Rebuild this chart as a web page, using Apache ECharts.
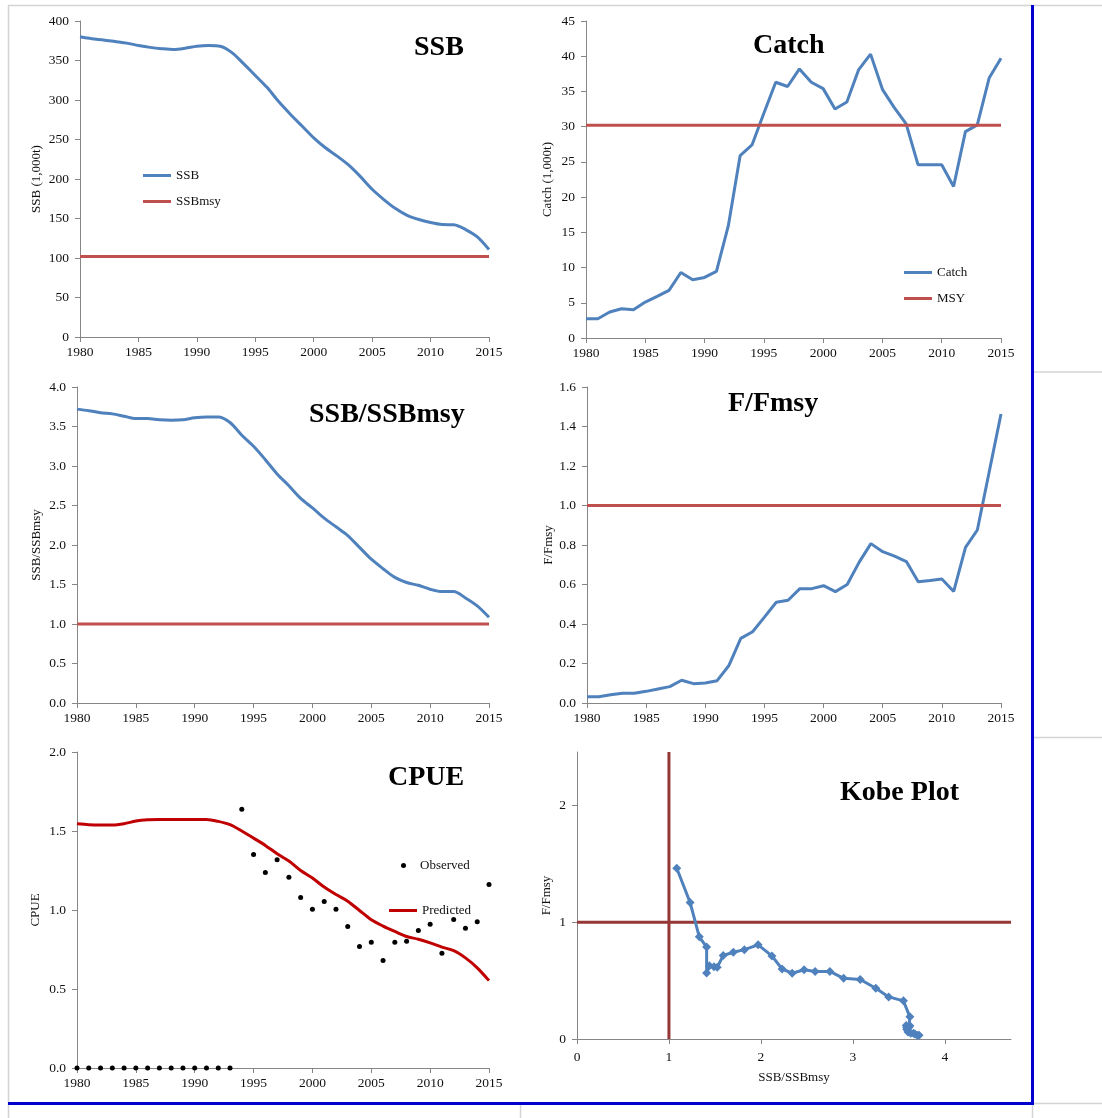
<!DOCTYPE html>
<html>
<head>
<meta charset="utf-8">
<script src="https://cdn.jsdelivr.net/npm/echarts@6/dist/echarts.min.js"></script>
<style>
body { margin: 0; background: #fff; }
#stockChart { width: 1102px; height: 1118px; }
</style>
</head>
<body>
<div id="stockChart"></div>
<script>
var years = [1980, 1981, 1982, 1983, 1984, 1985, 1986, 1987, 1988, 1989, 1990, 1991,
    1992, 1993, 1994, 1995, 1996, 1997, 1998, 1999, 2000, 2001, 2002, 2003,
    2004, 2005, 2006, 2007, 2008, 2009, 2010, 2011, 2012, 2013, 2014, 2015];
// SSB (1,000t)
var ssb = [380, 377.6, 376, 374, 372, 369, 366.6, 365, 364, 365.5, 368, 369,
    368, 360, 346, 331, 316, 298, 282, 267, 252, 239.5, 229, 217.5,
    203, 187, 174, 162.6, 154, 148.7, 145, 142.4, 142, 136, 126.7, 110.7];
var ssbMsy = 102;
// Catch (1,000t)
var catchData = [2.74, 2.74, 3.69, 4.16, 4.02, 5.1, 5.9, 6.76, 9.3, 8.27, 8.6, 9.45,
    15.9, 25.9, 27.4, 31.9, 36.3, 35.7, 38.2, 36.3, 35.4, 32.5, 33.5, 38.1,
    40.3, 35.3, 32.7, 30.4, 24.6, 24.6, 24.6, 21.5, 29.3, 30.25, 36.9, 39.7];
var msy = 30.2;
var ssbRatio = [3.72, 3.70, 3.675, 3.66, 3.63, 3.60, 3.60, 3.586, 3.58, 3.586, 3.61, 3.62,
    3.62, 3.55, 3.39, 3.25, 3.08, 2.90, 2.75, 2.59, 2.47, 2.34, 2.23, 2.12,
    1.97, 1.82, 1.70, 1.59, 1.525, 1.49, 1.44, 1.41, 1.41, 1.33, 1.23, 1.085];
var fRatio = [0.032, 0.032, 0.042, 0.049, 0.049, 0.059, 0.071, 0.083, 0.115, 0.098, 0.101, 0.113,
    0.19, 0.327, 0.361, 0.435, 0.51, 0.52, 0.579, 0.579, 0.594, 0.564, 0.60, 0.712,
    0.807, 0.766, 0.744, 0.716, 0.614, 0.62, 0.628, 0.565, 0.788, 0.876, 1.17, 1.463];
var refLevel = 1.0;
var cpueObs = [0, 0, 0, 0, 0, 0, 0, 0, 0, 0, 0, 0,
    0, 0, 1.637, 1.352, 1.238, 1.318, 1.208, 1.079, 1.005, 1.054, 1.005, 0.895,
    0.769, 0.796, 0.680, 0.796, 0.803, 0.870, 0.910, 0.727, 0.940, 0.885, 0.925, 1.162];
var cpuePred = [1.546, 1.54, 1.538, 1.538, 1.546, 1.563, 1.571, 1.573, 1.573, 1.573, 1.573, 1.573,
    1.561, 1.54, 1.50, 1.455, 1.409, 1.356, 1.31, 1.25, 1.202, 1.145, 1.098, 1.056,
    0.997, 0.938, 0.898, 0.864, 0.832, 0.815, 0.792, 0.765, 0.743, 0.697, 0.634, 0.553];
var kobeTicksX = [0, 1, 2, 3, 4];
var kobeTicksY = [0, 1, 2];
var kobeMaxX = 4.72;
var kobeMaxY = 2.46;

let myChart = echarts.init(document.getElementById('stockChart'))

let blue = '#4F81BD';
let red = '#C0504D';
let darkRed = '#C00000';
let kobeRed = '#953735';
let axisColor = '#868686';
let textColor = '#111';
let font = 'Liberation Serif';

function yearAxis(gridIndex) {
    return {
        type: 'value', gridIndex: gridIndex, min: 1980, max: 2015, interval: 5,
        axisLine: { show: true, onZero: false, lineStyle: { color: axisColor } },
        axisTick: { show: true, length: 5, lineStyle: { color: axisColor } },
        axisLabel: { color: textColor, fontSize: 13.5, margin: 8, formatter: function (v) { return String(v) } },
        splitLine: { show: false }
    }
}

function valueAxis(gridIndex, max, interval, digits, name, nameGap) {
    return {
        type: 'value', gridIndex: gridIndex, min: 0, max: max, interval: interval,
        name: name, nameLocation: 'middle', nameGap: nameGap,
        nameTextStyle: { fontSize: 13, color: textColor },
        axisLine: { show: true, onZero: false, lineStyle: { color: axisColor } },
        axisTick: { show: true, length: 5, lineStyle: { color: axisColor } },
        axisLabel: { color: textColor, fontSize: 13.5, margin: 11, formatter: function (v) { return v.toFixed(digits) } },
        splitLine: { show: false }
    }
}

function yearPairs(arr) {
    return years.map(function (y, i) { return [y, arr[i]] })
}
function refPairs(v) {
    return [[years[0], v], [years[years.length - 1], v]]
}
function lineSeries(name, idx, data, color, smooth) {
    return {
        name: name, type: 'line', xAxisIndex: idx, yAxisIndex: idx, data: data,
        smooth: smooth, showSymbol: false, color: color,
        lineStyle: { width: 3, color: color },
        emphasis: { disabled: true }
    }
}

let titleStyle = { fontFamily: font, fontSize: 28, fontWeight: 'bold', color: '#000' };
let legendText = { fontFamily: font, fontSize: 13, color: textColor };

var kobeAxisX = valueAxis(5, kobeMaxX, 1, 0, 'SSB/SSBmsy', 32);
kobeAxisX.axisLabel.customValues = kobeTicksX;
kobeAxisX.axisTick.customValues = kobeTicksX;
var kobeAxisY = valueAxis(5, kobeMaxY, 1, 0, 'F/Fmsy', 24);
kobeAxisY.axisLabel.customValues = kobeTicksY;
kobeAxisY.axisTick.customValues = kobeTicksY;

var option = {
    animation: false,
    backgroundColor: '#fff',
    textStyle: { fontFamily: font },
    title: [
        { text: 'SSB', left: 414, top: 34, padding: 0, textStyle: titleStyle },
        { text: 'Catch', left: 753, top: 32, padding: 0, textStyle: titleStyle },
        { text: 'SSB/SSBmsy', left: 309, top: 401, padding: 0, textStyle: titleStyle },
        { text: 'F/Fmsy', left: 728, top: 390, padding: 0, textStyle: titleStyle },
        { text: 'CPUE', left: 388, top: 764, padding: 0, textStyle: titleStyle },
        { text: 'Kobe Plot', left: 840, top: 779, padding: 0, textStyle: titleStyle }
    ],
    legend: [
        { orient: 'vertical', left: 143, top: 169, padding: 0, itemWidth: 28, itemHeight: 3, itemGap: 13, icon: 'rect', textStyle: legendText, data: ['SSB', 'SSBmsy'] },
        { orient: 'vertical', left: 904, top: 266, padding: 0, itemWidth: 28, itemHeight: 3, itemGap: 13, icon: 'rect', textStyle: legendText, data: ['Catch', 'MSY'] },
        { left: 401, top: 859, padding: 0, itemWidth: 5, itemHeight: 5, icon: 'circle', textStyle: { fontFamily: font, fontSize: 13, color: textColor, padding: [0, 0, 0, 9] }, data: ['Observed'] },
        { left: 389, top: 904, padding: 0, itemWidth: 28, itemHeight: 3, icon: 'rect', textStyle: legendText, data: ['Predicted'] }
    ],
    grid: [
        { left: 80, top: 21, width: 409, height: 316 },
        { left: 586, top: 21, width: 415, height: 317 },
        { left: 77, top: 387, width: 412, height: 316 },
        { left: 587, top: 387, width: 414, height: 316 },
        { left: 77, top: 752, width: 412, height: 316 },
        { left: 577, top: 752, width: 434, height: 287 }
    ],
    xAxis: [yearAxis(0), yearAxis(1), yearAxis(2), yearAxis(3), yearAxis(4), kobeAxisX],
    yAxis: [
        valueAxis(0, 400, 50, 0, 'SSB (1,000t)', 37),
        valueAxis(1, 45, 5, 0, 'Catch (1,000t)', 32),
        valueAxis(2, 4, 0.5, 1, 'SSB/SSBmsy', 34),
        valueAxis(3, 1.6, 0.2, 1, 'F/Fmsy', 32),
        valueAxis(4, 2, 0.5, 1, 'CPUE', 35),
        kobeAxisY
    ],
    series: [
        lineSeries('SSB', 0, yearPairs(ssb), blue, 0.3),
        lineSeries('SSBmsy', 0, refPairs(ssbMsy), red, false),
        lineSeries('Catch', 1, yearPairs(catchData), blue, false),
        lineSeries('MSY', 1, refPairs(msy), red, false),
        lineSeries('SSB/SSBmsy', 2, yearPairs(ssbRatio), blue, 0.3),
        lineSeries('ssbRef', 2, refPairs(refLevel), red, false),
        lineSeries('F/Fmsy', 3, yearPairs(fRatio), blue, false),
        lineSeries('fRef', 3, refPairs(refLevel), red, false),
        {
            name: 'Observed', type: 'scatter', xAxisIndex: 4, yAxisIndex: 4,
            data: yearPairs(cpueObs), symbol: 'circle', symbolSize: 5, color: '#000',
            itemStyle: { color: '#000', opacity: 1 },
            emphasis: { disabled: true }
        },
        lineSeries('Predicted', 4, yearPairs(cpuePred), darkRed, 0.3),
        lineSeries('kobeB', 5, [[refLevel, 0], [refLevel, kobeMaxY]], kobeRed, false),
        lineSeries('kobeF', 5, [[0, refLevel], [kobeMaxX, refLevel]], kobeRed, false),
        {
            name: 'Kobe', type: 'line', xAxisIndex: 5, yAxisIndex: 5,
            data: ssbRatio.map(function (v, i) { return [v, fRatio[i]] }),
            symbol: 'diamond', symbolSize: 9, showSymbol: true, color: blue,
            lineStyle: { width: 3, color: blue },
            itemStyle: { color: blue },
            emphasis: { disabled: true }
        }
    ],
    // spreadsheet cell lines and the blue print frame
    graphic: [
        { type: 'line', z: 100, shape: { x1: 8, y1: 5.5, x2: 1102, y2: 5.5 }, style: { stroke: '#d4d4d4', lineWidth: 1.5 } },
        { type: 'line', z: 100, shape: { x1: 8.5, y1: 5, x2: 8.5, y2: 1118 }, style: { stroke: '#d4d4d4', lineWidth: 1.5 } },
        { type: 'line', z: 100, shape: { x1: 1034, y1: 372, x2: 1102, y2: 372 }, style: { stroke: '#d4d4d4', lineWidth: 1.5 } },
        { type: 'line', z: 100, shape: { x1: 1034, y1: 737.5, x2: 1102, y2: 737.5 }, style: { stroke: '#d4d4d4', lineWidth: 1.5 } },
        { type: 'line', z: 100, shape: { x1: 1034, y1: 1103.5, x2: 1102, y2: 1103.5 }, style: { stroke: '#d4d4d4', lineWidth: 1.5 } },
        { type: 'line', z: 100, shape: { x1: 1032.5, y1: 1104, x2: 1032.5, y2: 1118 }, style: { stroke: '#d4d4d4', lineWidth: 1.5 } },
        { type: 'line', z: 100, shape: { x1: 520.5, y1: 1104, x2: 520.5, y2: 1118 }, style: { stroke: '#d4d4d4', lineWidth: 1.5 } },
        { type: 'line', z: 101, shape: { x1: 1032.5, y1: 5, x2: 1032.5, y2: 1105 }, style: { stroke: '#0000cc', lineWidth: 3 } },
        { type: 'line', z: 101, shape: { x1: 8, y1: 1103.5, x2: 1034, y2: 1103.5 }, style: { stroke: '#0000cc', lineWidth: 3 } }
    ]
}

myChart.setOption(option)

window.addEventListener('resize', function () {
    myChart.resize()
})
</script>
</body>
</html>
